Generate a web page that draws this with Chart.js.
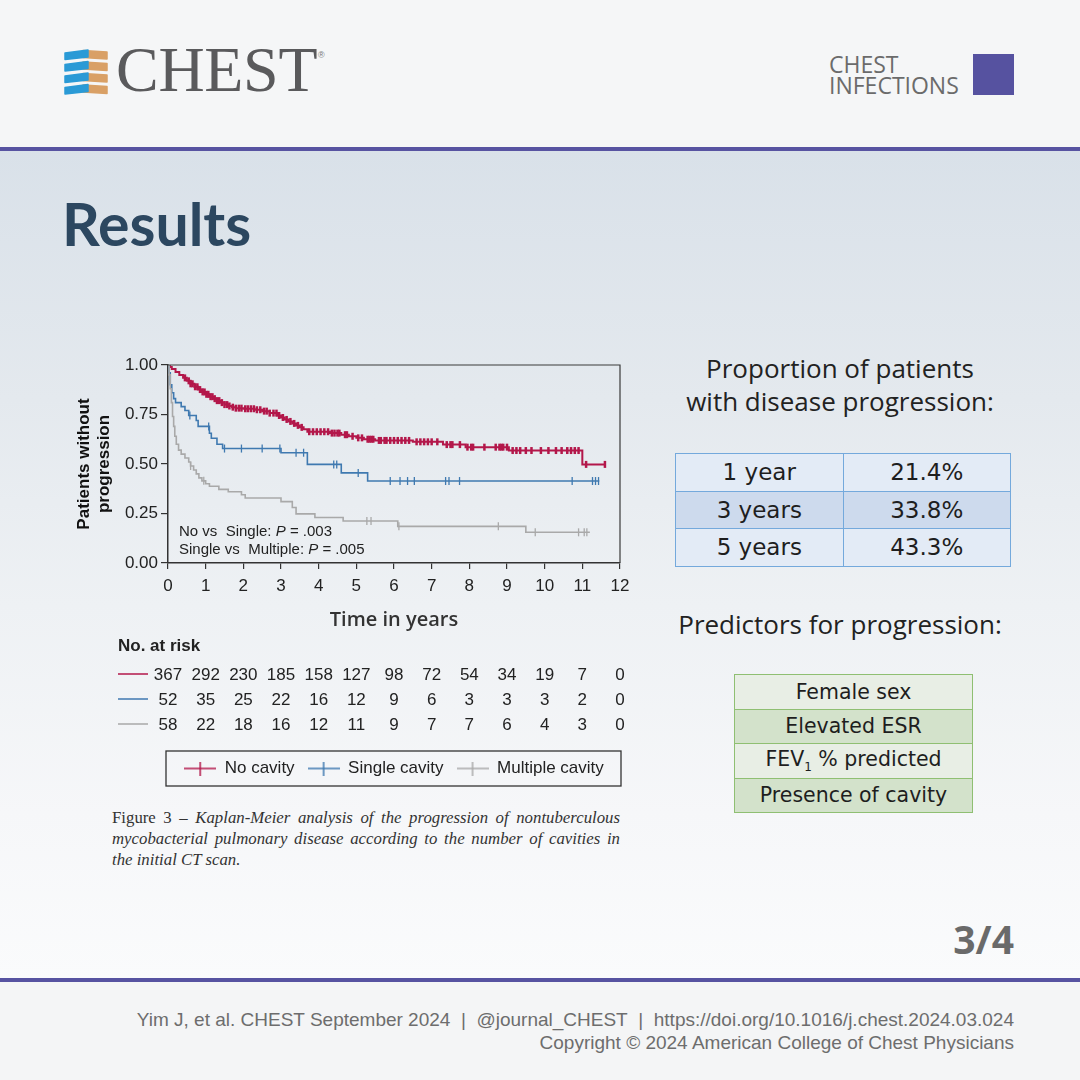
<!DOCTYPE html>
<html>
<head>
<meta charset="utf-8">
<script src="https://cdn.jsdelivr.net/npm/chart.js@4.4.1/dist/chart.umd.min.js"></script>
<style>
  html, body { margin: 0; padding: 0; }
  body { width: 1080px; height: 1080px; position: relative; overflow: hidden; background: #f5f6f7; font-family: "Open Sans", sans-serif; }
  .abs { position: absolute; }
  #header { left: 0; top: 0; width: 1080px; height: 147px; background: #f5f6f7; }
  #main { left: 0; top: 151px; width: 1080px; height: 827px;
          background: linear-gradient(to bottom, #d9e1e9 0%, #e4e9ee 30%, #eef1f4 55%, #f6f7f9 80%, #fafbfc 100%); }
  .rule { left: 0; width: 1080px; height: 4px; background: #5753a1; }
  #footer { left: 0; top: 982px; width: 1080px; height: 98px; background: #f4f5f6; }
  #brand { left: 116px; top: 38px; font-family: "Liberation Serif", serif; font-size: 64px; line-height: 64px; color: #5a5a5c; letter-spacing: -0.3px; }
  #reg { left: 318px; top: 50px; font-family: "Liberation Sans", sans-serif; font-size: 9px; color: #777; }
  #section { left: 829px; top: 54px; font-family: "Open Sans", sans-serif; font-size: 23px; line-height: 21px; color: #6b6b6b; }
  #square { left: 973px; top: 54px; width: 41px; height: 41px; background: #5652a0; }
  #title { left: 62px; top: 189px; font-family: Lato, sans-serif; font-weight: 700; font-size: 59px; line-height: 1.2; color: #2c4760; }
  .head2 { width: 340px; left: 670px; text-align: center; font-family: "Open Sans", sans-serif; font-size: 26px; line-height: 33px; color: #222; }
  table { border-collapse: collapse; position: absolute; font-family: "DejaVu Sans", Verdana, sans-serif; color: #1e1e1e; }
  #tab1 { left: 675px; top: 453px; width: 336px; font-size: 23px; }
  #tab1 td { border: 1.5px solid #74a9dc; height: 36.5px; padding: 0; text-align: center; width: 50%; }
  #tab1 tr:nth-child(odd) td { background: #e3ebf6; }
  #tab1 tr:nth-child(even) td { background: #cddaed; }
  #tab2 { left: 734px; top: 674px; width: 239px; font-size: 20.5px; }
  #tab2 td { border: 1.5px solid #8fbf72; height: 33.5px; padding: 0; text-align: center; }
  #tab2 tr:nth-child(odd) td { background: #e8eee5; }
  #tab2 tr:nth-child(even) td { background: #d3e2cb; }
  #tab2 sub { font-size: 12px; }
  #page { right: 66px; top: 912px; font-family: "Open Sans", sans-serif; font-weight: 700; font-size: 39px; color: #6a6a6a; }
  #credit { right: 66px; top: 1008px; text-align: right; font-family: "Liberation Sans Narrow", "Liberation Sans", sans-serif; font-size: 19px; line-height: 23px; color: #6d6d6d; }
  #caption { left: 112px; top: 807px; width: 508px; font-family: "Liberation Serif", serif; font-size: 16.8px; line-height: 21px; color: #333; }
  #caption span { display: block; text-align: justify; text-align-last: justify; white-space: nowrap; }
  #caption span.last { text-align-last: left; }
  #chartBox { left: 60px; top: 345px; width: 580px; height: 445px; }
</style>
</head>
<body>
<div id="header" class="abs"></div>
<div class="abs rule" style="top:147px"></div>
<div id="main" class="abs"></div>
<div class="abs rule" style="top:978px"></div>
<div id="footer" class="abs"></div>

<svg class="abs" style="left:60px;top:45px" width="56" height="56" viewBox="0 0 56 56">
  <g id="ribs"></g>
</svg>
<div id="brand" class="abs">CHEST</div>
<div id="reg" class="abs">®</div>
<div id="section" class="abs">CHEST<br>INFECTIONS</div>
<div id="square" class="abs"></div>

<div id="title" class="abs">Results</div>

<div class="abs head2" style="top:352px">Proportion of patients<br>with disease progression:</div>
<table id="tab1">
  <tr><td>1 year</td><td>21.4%</td></tr>
  <tr><td>3 years</td><td>33.8%</td></tr>
  <tr><td>5 years</td><td>43.3%</td></tr>
</table>
<div class="abs head2" style="top:608px">Predictors for progression:</div>
<table id="tab2">
  <tr><td>Female sex</td></tr>
  <tr><td>Elevated ESR</td></tr>
  <tr><td>FEV<sub>1</sub> % predicted</td></tr>
  <tr><td>Presence of cavity</td></tr>
</table>

<div id="chartBox" class="abs"><canvas id="km"></canvas></div>

<div id="caption" class="abs">
  <span>Figure 3 – <i>Kaplan-Meier analysis of the progression of nontuberculous</i></span>
  <span><i>mycobacterial pulmonary disease according to the number of cavities in</i></span>
  <span class="last"><i>the initial CT scan.</i></span>
</div>

<div id="page" class="abs">3/4</div>
<div id="credit" class="abs">Yim J, et al. CHEST September 2024&nbsp; |&nbsp; @journal_CHEST&nbsp; |&nbsp; https://doi.org/10.1016/j.chest.2024.03.024<br>Copyright © 2024 American College of Chest Physicians</div>

<script>
// logo ribs
const ribs = document.getElementById("ribs");
for (let i = 0; i < 4; i++) {
  const y = 5 + i * 11.5;
  ribs.innerHTML +=
    `<polygon points="23,${y + 0.5} 47,${y + 2} 47,${y + 9} 23,${y + 7.5}" fill="#d9a066" stroke="#d9a066" stroke-linejoin="round" stroke-width="1.5"/>` +
    `<polygon points="5,${y + 3} 28,${y} 28,${y + 7} 5,${y + 9.5}" fill="#2a9ad6" stroke="#2a9ad6" stroke-linejoin="round" stroke-width="1.5"/>`;
}

// ---- data ----
const years = [0, 1, 2, 3, 4, 5, 6, 7, 8, 9, 10, 11, 12];
const yTicks = [0, 0.25, 0.5, 0.75, 1];
const seriesNames = ["No cavity", "Single cavity", "Multiple cavity"];
const seriesColors = ["#b3174a", "#3f79b0", "#a9a9a9"];

// Kaplan-Meier steps: time (years) and survival after the step
const noCavityT = [0, 0.05, 0.1, 0.2, 0.3, 0.4, 0.5, 0.6, 0.7, 0.8, 0.9, 1.0, 1.1, 1.2, 1.3, 1.4, 1.5, 1.6, 1.7, 1.8, 2.0, 2.3, 2.5, 2.7, 2.9, 3.0, 3.1, 3.2, 3.3, 3.4, 3.5, 3.6, 3.7, 4.3, 4.6, 4.8, 5.0, 5.2, 5.5, 6.5, 7.3, 7.9, 9.05, 11.0, 11.6];
const noCavityS = [1.0, 0.99, 0.98, 0.965, 0.95, 0.935, 0.92, 0.905, 0.89, 0.876, 0.864, 0.852, 0.84, 0.83, 0.82, 0.81, 0.8, 0.793, 0.787, 0.782, 0.779, 0.774, 0.767, 0.757, 0.745, 0.735, 0.725, 0.715, 0.705, 0.695, 0.685, 0.675, 0.663, 0.656, 0.648, 0.64, 0.632, 0.625, 0.619, 0.612, 0.598, 0.585, 0.568, 0.498, 0.498];
const singleT = [0, 0.03, 0.06, 0.1, 0.15, 0.2, 0.35, 0.45, 0.55, 0.75, 0.8, 1.1, 1.15, 1.3, 1.45, 3.0, 3.7, 4.6, 5.3, 11.45];
const singleS = [1.0, 0.96, 0.9, 0.86, 0.83, 0.81, 0.79, 0.77, 0.745, 0.72, 0.69, 0.655, 0.63, 0.6, 0.578, 0.557, 0.498, 0.455, 0.414, 0.414];
const multipleT = [0, 0.03, 0.06, 0.09, 0.12, 0.15, 0.18, 0.22, 0.28, 0.35, 0.45, 0.55, 0.6, 0.68, 0.75, 0.82, 0.9, 1.0, 1.1, 1.35, 1.6, 1.95, 2.05, 3.0, 3.3, 3.4, 3.9, 4.65, 6.1, 9.5, 11.2];
const multipleS = [1.0, 0.95, 0.88, 0.81, 0.74, 0.69, 0.64, 0.6, 0.57, 0.55, 0.53, 0.51, 0.49, 0.47, 0.45, 0.43, 0.415, 0.4, 0.388, 0.372, 0.36, 0.345, 0.328, 0.31, 0.28, 0.248, 0.23, 0.212, 0.185, 0.155, 0.155];

// censoring times
const noCavityCensor = [0.45, 0.55, 0.6, 0.65, 0.72, 0.78, 0.85, 0.92, 0.97, 1.02, 1.07, 1.13, 1.18, 1.24, 1.3, 1.36, 1.43, 1.5, 1.57, 1.63, 1.72, 1.8, 1.88, 1.95, 2.05, 2.12, 2.2, 2.28, 2.36, 2.45, 2.55, 2.62, 2.7, 2.8, 2.88, 2.95, 3.05, 3.15, 3.25, 3.35, 3.45, 3.55, 3.75, 3.85, 3.95, 4.05, 4.15, 4.25, 4.35, 4.42, 4.5, 4.55, 4.7, 4.75, 4.9, 5.05, 5.15, 5.3, 5.35, 5.4, 5.45, 5.6, 5.65, 5.75, 5.8, 5.9, 6.0, 6.1, 6.2, 6.3, 6.4, 6.6, 6.7, 6.8, 6.9, 7.0, 7.15, 7.4, 7.5, 7.55, 7.75, 7.95, 8.05, 8.1, 8.4, 8.7, 8.8, 8.85, 8.9, 9.0, 9.15, 9.25, 9.35, 9.5, 9.65, 9.9, 10.1, 10.3, 10.45, 10.6, 10.7, 10.8, 10.9, 11.1, 11.6];
const singleCensor = [0.58, 1.08, 1.5, 1.95, 2.5, 2.97, 3.4, 3.6, 4.4, 4.48, 5.05, 5.9, 6.16, 6.36, 6.54, 7.37, 7.46, 7.74, 10.73, 11.27, 11.35, 11.43];
const multipleCensor = [0.6, 0.95, 5.28, 5.39, 6.13, 8.77, 9.75, 10.9, 11.05, 11.12];

// numbers at risk
const atRiskNo = [367, 292, 230, 185, 158, 127, 98, 72, 54, 34, 19, 7, 0];
const atRiskSingle = [52, 35, 25, 22, 16, 12, 9, 6, 3, 3, 3, 2, 0];
const atRiskMultiple = [58, 22, 18, 16, 12, 11, 9, 7, 7, 6, 4, 3, 0];
const pTests = ["No vs  Single: ", "Single vs  Multiple: "];
const pValues = [".003", ".005"];

// ---- build datasets ----
const toPoints = (T, S) => T.map((t, i) => ({ x: t, y: S[i] }));
// value of the step curve at a censoring time
const onCurve = (T, S, times) => times.map(t => {
  let v = S[0];
  for (let i = 0; i < T.length; i++) if (T[i] <= t) v = S[i];
  return { x: t, y: v };
});

const curves = [[noCavityT, noCavityS, noCavityCensor], [singleT, singleS, singleCensor], [multipleT, multipleS, multipleCensor]];
const lineWidths = [2, 1.6, 1.6];
const datasets = [];
curves.forEach(([T, S], i) => {
  datasets.push({
    type: "line", label: seriesNames[i], data: toPoints(T, S), stepped: "before",
    borderColor: seriesColors[i], borderWidth: lineWidths[i], pointRadius: 0, fill: false, order: 3 - i,
  });
});
curves.forEach(([T, S, C], i) => {
  datasets.push({
    type: "scatter", label: seriesNames[i] + " censored", data: onCurve(T, S, C),
    pointStyle: "line", rotation: 90, radius: i === 0 ? 3.5 : 4,
    borderColor: seriesColors[i], borderWidth: i === 0 ? 2.5 : 1.3, order: 3 - i,
  });
});

// legend icons: line with a tick
const legendIcons = seriesColors.map(c => {
  const cv = document.createElement("canvas");
  cv.width = 32; cv.height = 14;
  const g = cv.getContext("2d");
  g.strokeStyle = c; g.lineWidth = 1.5;
  g.beginPath(); g.moveTo(0, 7); g.lineTo(32, 7); g.moveTo(16, 0); g.lineTo(16, 14); g.stroke();
  return cv;
});

const FONT = '"Liberation Sans", Arial, sans-serif';

const extras = {
  id: "extras",
  afterDraw(chart) {
    const { ctx, chartArea: a } = chart;
    const x = chart.scales.x;
    ctx.save();
    // frame top/right
    ctx.strokeStyle = "#3a3a3a"; ctx.lineWidth = 1.2;
    ctx.beginPath();
    ctx.moveTo(a.left, a.top); ctx.lineTo(a.right, a.top); ctx.lineTo(a.right, a.bottom);
    ctx.stroke();

    // p values
    ctx.fillStyle = "#222"; ctx.textBaseline = "middle"; ctx.textAlign = "left";
    pTests.forEach((txt, i) => {
      const y = a.bottom - 31 + i * 18;
      let px = a.left + 11;
      ctx.font = "15px " + FONT; ctx.fillText(txt, px, y); px += ctx.measureText(txt).width;
      ctx.font = "italic 15px " + FONT; ctx.fillText("P", px, y); px += ctx.measureText("P").width;
      ctx.font = "15px " + FONT; ctx.fillText(" = " + pValues[i], px, y);
    });

    // numbers at risk
    ctx.font = "bold 17px " + FONT;
    ctx.fillText("No. at risk", a.left - 50, a.bottom + 83);
    ctx.font = "17px " + FONT; ctx.textAlign = "center";
    [atRiskNo, atRiskSingle, atRiskMultiple].forEach((row, r) => {
      const y = a.bottom + 111 + r * 25;
      ctx.strokeStyle = seriesColors[r]; ctx.lineWidth = 1.5;
      ctx.beginPath(); ctx.moveTo(a.left - 50, y); ctx.lineTo(a.left - 20, y); ctx.stroke();
      row.forEach((n, i) => ctx.fillText(String(n), x.getPixelForValue(years[i]), y + 1));
    });

    // legend frame
    const hb = chart.legend.legendHitBoxes;
    if (hb && hb.length) {
      const cy = hb[0].top + hb[0].height / 2;
      ctx.strokeStyle = "#333"; ctx.lineWidth = 1.3;
      ctx.strokeRect(a.left - 2, cy - 17.5, a.right - a.left + 3, 35);
    }
    ctx.restore();
  }
};

new Chart(document.getElementById("km"), {
  data: { datasets },
  options: {
    responsive: true,
    maintainAspectRatio: false,
    animation: false,
    events: [],
    layout: { padding: { top: 20, right: 20, left: 0, bottom: 3 } },
    scales: {
      x: {
        type: "linear", min: 0, max: 12,
        afterBuildTicks: s => { s.ticks = years.map(v => ({ value: v })); },
        afterFit: s => { s.height = 184; },
        ticks: { color: "#222", padding: 7, font: { family: FONT, size: 17 }, maxRotation: 0 },
        grid: { drawOnChartArea: false, drawTicks: true, tickLength: 6, color: "#333", lineWidth: 1.2 },
        border: { color: "#333", width: 1.5 },
        title: { display: true, text: "Time in years", color: "#333", font: { family: '"Open Sans", sans-serif', size: 20, weight: "600" }, padding: { top: 0, bottom: 115 } },
      },
      y: {
        type: "linear", min: 0, max: 1,
        afterBuildTicks: s => { s.ticks = yTicks.map(v => ({ value: v })); },
        afterFit: s => { s.width = 108; },
        ticks: { color: "#222", padding: 3, font: { family: FONT, size: 17 }, callback: v => Number(v).toFixed(2) },
        grid: { drawOnChartArea: false, drawTicks: true, tickLength: 7, color: "#333", lineWidth: 1.2 },
        border: { color: "#333", width: 1.5 },
        title: { display: true, text: ["Patients without", "progression"], color: "#111", font: { family: FONT, size: 17, weight: "bold" }, padding: { top: 14, bottom: 0 } },
      },
    },
    plugins: {
      legend: {
        display: true,
        position: "bottom",
        fullSize: false,
        labels: {
          color: "#222",
          font: { family: FONT, size: 17 },
          usePointStyle: true,
          pointStyleWidth: 32,
          padding: 13,
          generateLabels: () => seriesNames.map((name, i) => ({
            text: name, pointStyle: legendIcons[i], fillStyle: seriesColors[i],
            strokeStyle: seriesColors[i], lineWidth: 0, hidden: false, datasetIndex: i, fontColor: "#222",
          })),
        },
      },
      tooltip: { enabled: false },
    },
  },
  plugins: [extras],
});
</script>
</body>
</html>
